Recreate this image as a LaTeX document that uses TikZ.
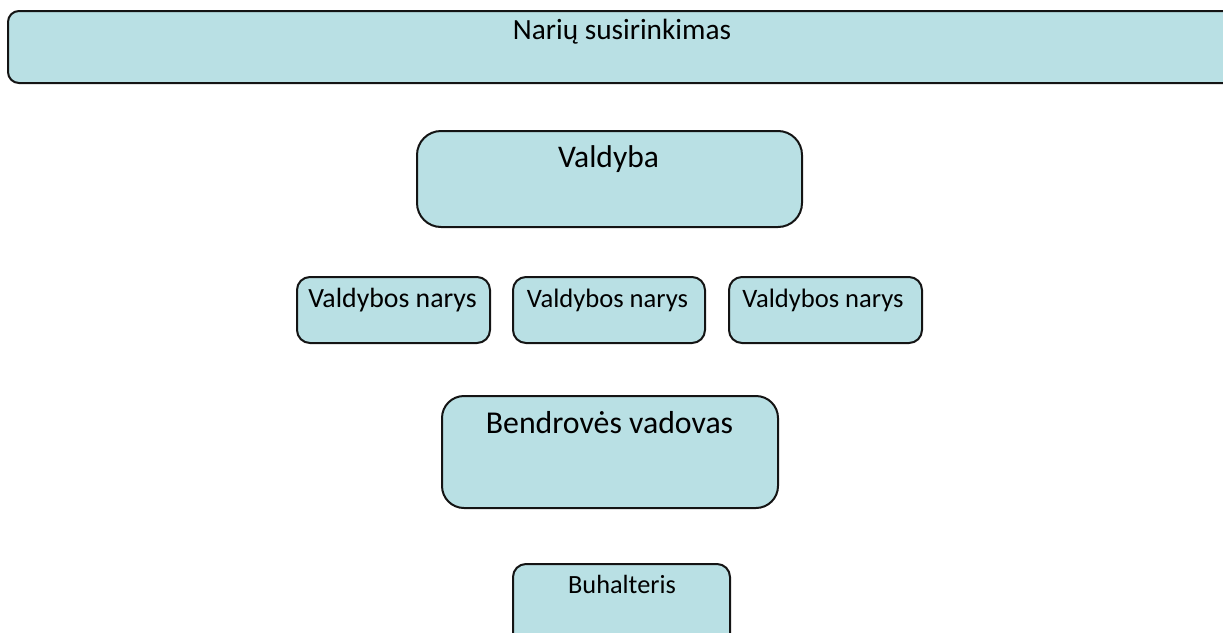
\documentclass[tikz,border=0pt]{standalone}
\usepackage{fontspec}
\setmainfont{Carlito}
\definecolor{boxfill}{RGB}{185,224,228}
\definecolor{boxline}{RGB}{20,20,20}
\tikzset{
  box/.style={draw=boxline, fill=boxfill, line width=2pt, rectangle, inner sep=0pt},
  txt/.style={anchor=base, inner sep=0pt, text=black},
}
\newcommand{\fs}[1]{\fontsize{#1}{#1}\selectfont}
\begin{document}
\begin{tikzpicture}[x=1pt,y=-1pt]
\useasboundingbox (0,0) rectangle (1223,632);
% top box (extends past right edge)
\node[box, rounded corners=11pt, minimum width=1232pt, minimum height=72pt] (top) at (624,47) {};
\node[txt, font=\fs{29.3}] (toptxt) at (622,39) {Narių susirinkimas};
% Valdyba
\node[box, rounded corners=24pt, minimum width=385pt, minimum height=96pt] (valdyba) at (609.5,179) {};
\node[txt, font=\fs{31.5}] (valdybatxt) at (608.5,167) {Valdyba};
% Valdybos nariai
\node[box, rounded corners=13pt, minimum width=193pt, minimum height=66pt] (n1) at (393.5,310) {};
\node[txt, font=\fs{27.8}] (n1txt) at (392.5,307) {Valdybos narys};
\node[box, rounded corners=13pt, minimum width=192pt, minimum height=66pt] (n2) at (609,310) {};
\node[txt, font=\fs{26.6}] (n2txt) at (607.5,307) {Valdybos narys};
\node[box, rounded corners=13pt, minimum width=193pt, minimum height=66pt] (n3) at (825.5,310) {};
\node[txt, font=\fs{26.6}] (n3txt) at (823,307) {Valdybos narys};
% Bendroves vadovas
\node[box, rounded corners=22pt, minimum width=336pt, minimum height=112pt] (vadovas) at (610,452) {};
\node[txt, font=\fs{31.8}] (vadovastxt) at (609.5,433) {Bendrovės vadovas};
% Buhalteris (extends past bottom edge)
\node[box, rounded corners=13pt, minimum width=217pt, minimum height=90pt] (buh) at (621.5,609) {};
\node[txt, font=\fs{26.3}] (buhtxt) at (622,593) {Buhalteris};
\end{tikzpicture}
\end{document}
